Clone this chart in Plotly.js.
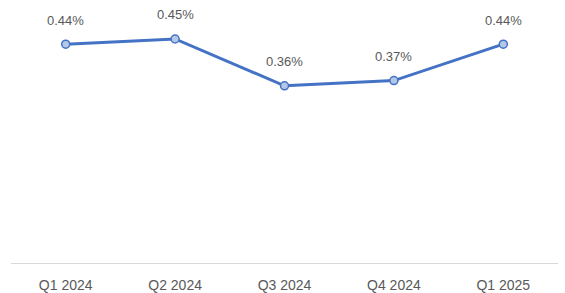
<!DOCTYPE html>
<html>
<head>
<meta charset="utf-8">
<script src="https://cdn.plot.ly/plotly-3.0.1.min.js"></script>
<style>html,body{margin:0;padding:0;background:#fff}#chart{width:565px;height:293px}</style>
</head>
<body>
<div id="chart"></div>
<script>
const categories = ["Q1 2024", "Q2 2024", "Q3 2024", "Q4 2024", "Q1 2025"];
const values = [0.44, 0.45, 0.36, 0.37, 0.44];
const labels = ["0.44%", "0.45%", "0.36%", "0.37%", "0.44%"];

const trace = {
  x: categories,
  y: values,
  type: 'scatter',
  mode: 'lines+markers',
  line: {color: '#4472C4', width: 3},
  marker: {size: 8, color: '#B4C7E7', line: {color: '#4472C4', width: 1.5}},
  hoverinfo: 'skip'
};

const annotations = categories.map((c, i) => ({
  x: c, y: values[i], text: labels[i], showarrow: false,
  yshift: 24, yanchor: 'middle', xanchor: 'center',
  font: {family: 'Liberation Sans, Arial, sans-serif', size: 13, color: '#595959'}
}));

const layout = {
  width: 565, height: 293,
  margin: {l: 11, r: 7, t: 13, b: 30},
  paper_bgcolor: '#fff', plot_bgcolor: '#fff',
  showlegend: false,
  xaxis: {
    type: 'category', range: [-0.5, 4.5],
    showline: true, linecolor: '#D9D9D9', linewidth: 1,
    showgrid: false, zeroline: false,
    ticks: '', ticklabelstandoff: 9,
    tickfont: {family: 'Liberation Sans, Arial, sans-serif', size: 14, color: '#595959'}
  },
  yaxis: {range: [0.019, 0.500], visible: false, showgrid: false, zeroline: false, fixedrange: true},
  annotations: annotations
};

Plotly.newPlot('chart', [trace], layout, {displayModeBar: false, staticPlot: true});
</script>
</body>
</html>
